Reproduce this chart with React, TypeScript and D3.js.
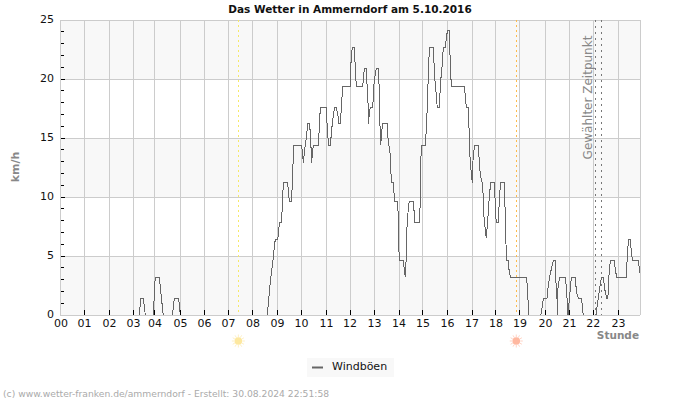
import React from "react";
import * as d3 from "d3";

const title = "Das Wetter in Ammerndorf am 5.10.2016";
const footer = "(c) www.wetter-franken.de/ammerndorf - Erstellt: 30.08.2024 22:51:58";
const hourLabels = ["00","01","02","03","04","05","06","07","08","09","10","11","12","13","14","15","16","17","18","19","20","21","22","23"];
const hourTicks = [0,1.014,2.048,3.04,3.93,4.985,5.98,6.97,7.985,9.0,9.99,11.03,12.0,13.01,14.03,15.02,16.03,17.05,18.04,19.03,20.09,21.08,22.07,23.11];
const yLabels = [0,5,10,15,20,25];
const yMinor = d3.range(0,26);
const bands: [number,number][] = [[0,5],[10,15],[20,25]];
const sunrise = 7.38;
const sunset = 18.88;
const selected = [22.14,22.39];

const times = [0,3.27,3.35,3.45,3.53,3.87,3.89,3.94,4.11,4.27,4.65,4.73,4.91,4.98,
8.58,8.66,8.74,8.83,8.88,8.92,9.01,9.08,9.16,9.20,9.24,9.42,9.49,9.57,9.61,9.65,9.67,10.00,10.07,10.12,10.19,10.25,10.32,10.37,10.39,10.41,10.48,10.70,10.74,10.79,11.01,11.08,11.12,11.19,11.24,11.30,11.36,11.43,11.50,11.53,11.60,11.67,11.70,12.01,12.05,12.10,12.18,12.22,12.26,
12.51,12.55,12.59,12.67,12.72,12.76,12.77,12.80,12.85,12.94,13.00,13.09,13.17,13.21,13.24,13.27,13.31,13.35,13.54,13.58,13.67,13.71,13.79,13.85,13.96,14.00,14.01,14.05,14.20,14.25,14.29,14.30,14.33,14.34,14.38,14.45,14.62,14.69,14.87,14.91,14.92,14.96,15.11,15.16,15.20,15.25,15.29,15.45,15.50,15.56,15.61,15.69,15.76,15.82,15.86,15.94,16.03,16.11,16.16,16.20,
16.74,16.78,16.83,16.89,16.92,16.94,17.00,17.06,17.07,17.10,17.17,17.31,17.35,17.39,17.47,17.52,17.53,17.58,17.64,17.68,17.72,17.76,17.82,17.97,18.01,18.05,18.14,18.18,18.23,18.38,18.41,18.45,18.49,18.55,18.59,18.65,19.30,19.34,19.38,19.39,
19.90,20.00,20.15,20.20,20.26,20.31,20.41,20.49,20.53,20.58,20.59,20.60,20.67,20.91,20.96,21.02,21.07,21.16,21.31,21.38,21.45,21.58,21.65,22.18,22.27,22.34,22.41,22.48,22.55,22.62,22.67,22.71,22.77,22.93,23.03,23.43,23.49,23.53,23.60,23.65,23.71,23.93,24.00];
const gusts = [0,0,1.4,1.4,0,0,1.2,3.2,3.2,0,0,1.4,1.4,0,
0,1.9,3.5,4.9,6.1,6.4,6.4,7.8,7.8,9.2,11.2,11.2,9.6,9.6,10.9,13.3,14.4,14.4,12.9,14,15,16.2,16.2,15.25,14,12.9,14.4,14.4,16.75,17.6,17.6,15.2,14.4,14.4,15.7,16.75,17.6,17.6,16.95,16.2,16.2,18.5,19.4,19.4,21.9,22.7,22.7,20.9,19.4,
19.4,19.8,20.9,20.9,18.9,17.4,16.2,17.2,17.6,17.6,19.8,20.9,20.9,19.2,16.1,14.4,15.5,16.2,16.2,14.8,13.5,11.2,11.2,9.6,9.6,8.4,5.9,4.6,4.6,3.8,3.2,4.4,4.6,6.7,8.3,9.6,9.6,7.8,7.8,9.6,12.7,14.4,14.4,15.7,17.8,21,22.7,22.7,20.2,18.9,17.6,17.6,20,21.3,22.7,22.7,24.1,24.1,20.5,19.4,
19.4,18.1,17.6,17.6,16.4,14.1,12.4,11.2,12,13.6,14.4,14.4,13,11.9,11.2,9.9,8.6,7.6,6.5,7.6,8.6,9.9,11.2,11.2,9.5,7.8,7.8,9.9,11.2,11.2,9.5,6.2,4.6,4.6,3.6,3.2,3.2,2.4,0.7,0,
0,1.4,1.4,2.4,3.2,3.7,4.6,4.6,2.4,1.0,0,2.2,3.2,3.2,2.2,0,1.2,3.2,3.2,1.9,1.4,1.4,0,0,1.4,2.4,3.2,3.2,2.1,1.4,1.4,3.2,4.6,4.6,3.2,3.2,5.5,6.4,6.4,5.1,4.6,4.6,3.6];

const sans = "'DejaVu Sans', sans-serif";
const plot = { l: 60, r: 640, t: 20, b: 315 };
const x = d3.scaleLinear().domain([0,24]).range([plot.l, plot.r]);
const y = d3.scaleLinear().domain([0,25]).range([plot.b, plot.t]);
const line = d3.line<number>().x((_,i)=>x(times[i])).y(d=>y(d));

function Sun({cx,cy,fill}:{cx:number;cy:number;fill:string}) {
  const rays = d3.range(0,12).map(i=>(i*Math.PI)/6);
  return <g>
    {rays.map((a,i)=><line key={i} x1={cx+Math.cos(a)*4} y1={cy+Math.sin(a)*4} x2={cx+Math.cos(a)*6.5} y2={cy+Math.sin(a)*6.5} stroke={fill} strokeWidth={1} opacity={0.6}/>)}
    <circle cx={cx} cy={cy} r={3.8} fill={fill}/>
  </g>;
}

export default function App(){
  return <svg width={700} height={400} viewBox="0 0 700 400" style={{position:"absolute",left:0,top:0,background:"#fff"}} fontFamily={sans}>
    <text x={350} y={13} textAnchor="middle" fontSize={10.5} fontWeight="bold" fill="#111">{title}</text>
    {bands.map((b,i)=><rect key={i} x={plot.l} width={plot.r-plot.l} y={y(b[1])} height={y(b[0])-y(b[1])} fill="#f8f8f8"/>)}
    <g shapeRendering="crispEdges" stroke="#cccccc">
      {hourTicks.map((h,i)=><line key={i} x1={x(h)} x2={x(h)} y1={plot.t} y2={plot.b}/>)}
      {yLabels.map((v,i)=><line key={i} x1={plot.l} x2={plot.r} y1={y(v)} y2={y(v)}/>)}
      <line x1={plot.r} x2={plot.r} y1={plot.t} y2={plot.b}/>
    </g>
    <line x1={x(sunrise)} x2={x(sunrise)} y1={plot.t} y2={plot.b} stroke="#f6e96a" strokeDasharray="2 3" shapeRendering="crispEdges"/>
    <line x1={x(sunset)} x2={x(sunset)} y1={plot.t} y2={plot.b} stroke="#fdbb4d" strokeDasharray="2 3" shapeRendering="crispEdges"/>
    {selected.map((h,i)=><line key={i} x1={x(h)} x2={x(h)} y1={plot.t} y2={plot.b} stroke="#777" strokeDasharray="2 4" shapeRendering="crispEdges"/>)}
    <path d={line(gusts)||""} fill="none" stroke="#666666" strokeWidth={1} shapeRendering="crispEdges"/>
    <g shapeRendering="crispEdges" stroke="#cccccc">
      <line x1={plot.l} x2={plot.r} y1={plot.b} y2={plot.b}/>
      <line x1={plot.l} x2={plot.r} y1={plot.b+1} y2={plot.b+1} stroke="#fff"/>
    </g>
    <g shapeRendering="crispEdges" stroke="#000">
      {hourTicks.slice(1).map((h,i)=><line key={i} x1={x(h)} x2={x(h)} y1={plot.b-5} y2={plot.b}/>)}
      {yMinor.slice(1,25).map((v,i)=><line key={i} x1={plot.l+1} x2={plot.l+(v%5===0?5:3.5)} y1={y(v)} y2={y(v)}/>)}
    </g>
    <g fontSize={11} fill="#111" textAnchor="middle">
      {hourTicks.map((h,i)=><text key={i} x={x(h)+(i===0?1:0)} y={327}>{hourLabels[i]}</text>)}
    </g>
    <g fontSize={11} fill="#111" textAnchor="end">
      {yLabels.map((v,i)=><text key={i} x={54} y={y(v)+3}>{v}</text>)}
    </g>
    <text transform="translate(19,167) rotate(-90)" textAnchor="middle" fontSize={11} fontWeight="bold" fill="#888">km/h</text>
    <text x={639} y={338.5} textAnchor="end" fontSize={10.5} fontWeight="bold" fill="#888">Stunde</text>
    <text transform="translate(592,97.5) rotate(-90)" textAnchor="middle" fontSize={12} fill="#888">Gewählter Zeitpunkt</text>
    <Sun cx={x(sunrise)} cy={341} fill="#fde8a0"/>
    <Sun cx={x(sunset)} cy={341} fill="#ffb8a0"/>
    <rect x={307} y={358} width={87} height={19} fill="#f8f8f8"/>
    <line x1={312} x2={323} y1={367.5} y2={367.5} stroke="#666" strokeWidth={2}/>
    <text x={332} y={370} fontSize={11} fill="#111">Windböen</text>
    <text x={3} y={397} fontSize={9.2} fill="#aaa">{footer}</text>
  </svg>;
}
